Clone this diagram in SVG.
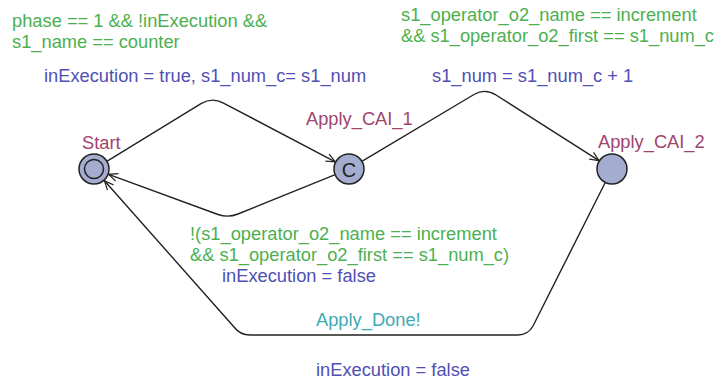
<svg xmlns="http://www.w3.org/2000/svg" width="717" height="381" viewBox="0 0 717 381">
<defs>
<marker id="arr" markerWidth="12" markerHeight="10" refX="10" refY="5" orient="auto" markerUnits="userSpaceOnUse">
<path d="M1,1 L10,5 L1,9" fill="none" stroke="#222" stroke-width="1.2"/>
</marker>
<style>
text{font-family:"Liberation Sans",Arial,sans-serif;font-size:18.3px}
.g{fill:#4cb050}
.b{fill:#5050b4}
.p{fill:#a0446e}
.t{fill:#40aab4}
.loc{fill:#a4adcf;stroke:#222;stroke-width:1.5}
.e{fill:none;stroke:#222;stroke-width:1.4}
</style>
</defs>
<rect width="717" height="381" fill="#fff"/>
<g id="connectors">
<path class="e" d="M107.2,161.2 L201,103.6 Q212,97 223,102.8 L335.3,161.8" marker-end="url(#arr)"/>
<path class="e" d="M362.3,161.1 L474,94.5 Q485,88 496,95 L599,160.6" marker-end="url(#arr)"/>
<path class="e" d="M334.6,174.8 L238,214 Q228,218 218,214.5 L108.6,174.3" marker-end="url(#arr)"/>
<path class="e" d="M605,183 L533,326 Q528,335 518,335 L250,335 Q240,335 234,327 L104.5,180.8" marker-end="url(#arr)"/>
</g>
<g id="labels">
<text class="g" x="12" y="27">phase == 1 &amp;&amp; !inExecution &amp;&amp;</text>
<text class="g" x="12" y="48">s1_name == counter</text>
<text class="b" x="44" y="82">inExecution = true, s1_num_c= s1_num</text>
<text class="g" x="401" y="21">s1_operator_o2_name == increment</text>
<text class="g" x="401" y="42">&amp;&amp; s1_operator_o2_first == s1_num_c</text>
<text class="b" x="432" y="82">s1_num = s1_num_c + 1</text>
<text class="g" x="190" y="240">!(s1_operator_o2_name == increment</text>
<text class="g" x="190" y="261">&amp;&amp; s1_operator_o2_first == s1_num_c)</text>
<text class="b" x="222" y="282">inExecution = false</text>
<text class="t" x="316" y="326">Apply_Done!</text>
<text class="b" x="316" y="376">inExecution = false</text>
</g>
<g id="Start">
<circle class="loc" cx="94" cy="169" r="15"/>
<circle cx="94" cy="169" r="9.5" fill="none" stroke="#222" stroke-width="1.5"/>
<text class="p" x="82" y="149">Start</text>
</g>
<g id="Apply_CAI_1">
<circle class="loc" cx="349" cy="169" r="15"/>
<text x="349" y="176.5" text-anchor="middle" fill="#222" style="font-size:20px">C</text>
<text class="p" x="306" y="125">Apply_CAI_1</text>
</g>
<g id="Apply_CAI_2">
<circle class="loc" cx="612" cy="169" r="15"/>
<text class="p" x="598" y="148">Apply_CAI_2</text>
</g>
</svg>
